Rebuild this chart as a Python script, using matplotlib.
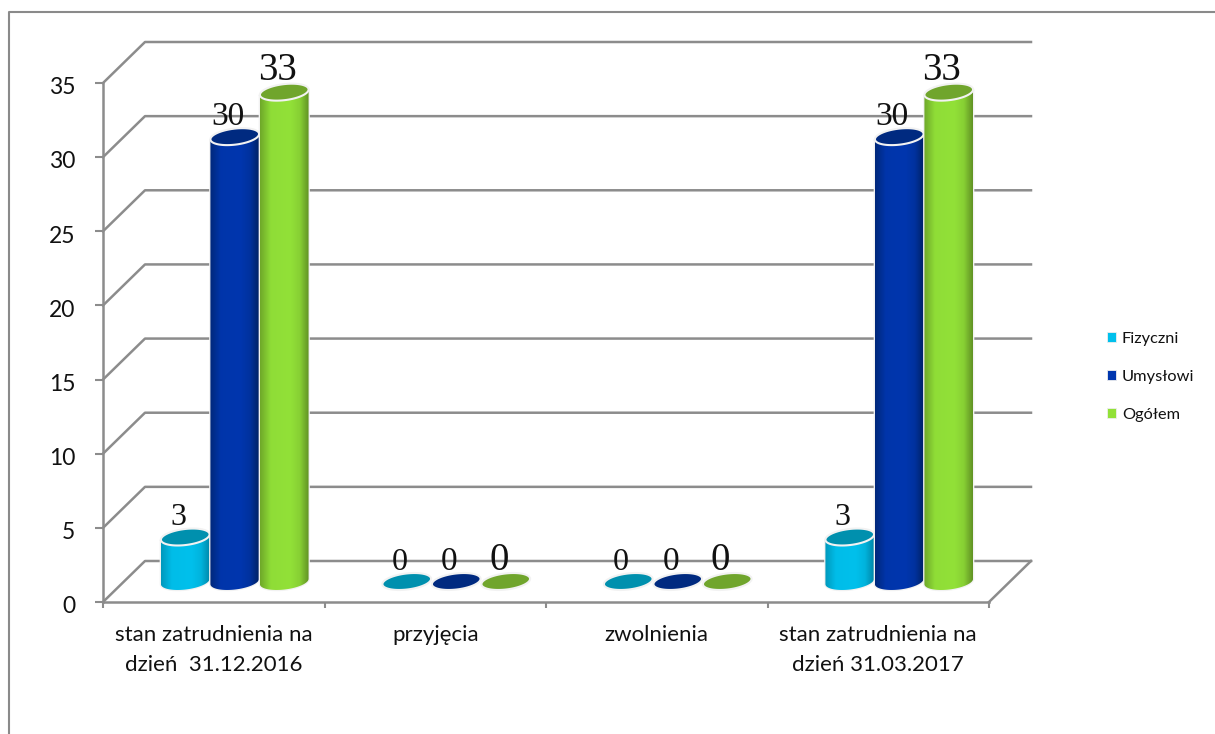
import matplotlib
matplotlib.use("Agg")
import matplotlib.pyplot as plt
import numpy as np
from matplotlib.lines import Line2D
from matplotlib.patches import PathPatch, Patch
from matplotlib.path import Path
from matplotlib.transforms import ScaledTranslation

categories = [
    "stan zatrudnienia na\ndzień  31.12.2016",
    "przyjęcia",
    "zwolnienia",
    "stan zatrudnienia na\ndzień 31.03.2017",
]
series_names = ["Fizyczni", "Umysłowi", "Ogółem"]
fizyczni = [3, 0, 0, 3]
umyslowi = [30, 0, 0, 30]
ogolem = [33, 0, 0, 33]
y_ticks = [0, 5, 10, 15, 20, 25, 30, 35]

# dark edge, light middle, top cap
body_dark = ["#0083A3", "#00205F", "#5C8A22"]
body_light = ["#00C0EC", "#0036AE", "#92E138"]
cap_colors = ["#0090AE", "#002A80", "#70A52C"]
label_sizes = [23, 24, 28]
grid_color = "#8C8C8C"

plt.rcParams["font.family"] = "Lato"

W, H = 1215, 734
fig = plt.figure(figsize=(W / 100, H / 100), dpi=100)
ax = fig.add_axes([103 / W, 1 - 602 / H, 886 / W, 519 / H])
ax.set_xlim(0, 4)
ax.set_ylim(0, 35)

px_x = 4 / 886
px_y = 35 / 519
depth_x = 42 * px_x
depth_y = 41 * px_y

# outer chart frame, only top and left show in the original
fig.add_artist(Line2D([9 / W, 9 / W, 1], [0, 1 - 12 / H, 1 - 12 / H],
                      transform=fig.transFigure, color="#8A8A8A", lw=1.5))

# back wall and side lines
for t in y_ticks:
    ax.plot([0, depth_x, 4 + depth_x], [t, t + depth_y, t + depth_y],
            color=grid_color, lw=1.8, clip_on=False, zorder=1)
ax.plot([4, 4 + depth_x], [0, depth_y], color=grid_color, lw=1.8, clip_on=False, zorder=1)

for side in ["top", "right"]:
    ax.spines[side].set_visible(False)
for side in ["left", "bottom"]:
    ax.spines[side].set_color(grid_color)
    ax.spines[side].set_linewidth(1.8)
ax.set_yticks(y_ticks)
ax.set_xticks([0, 1, 2, 3, 4])
ax.set_xticklabels([])
ax.set_xticks([0.5, 1.5, 2.5, 3.5], minor=True)
ax.set_xticklabels(categories, minor=True, color="#111111")
ax.tick_params(axis="x", which="major", length=4.5, width=1.5, color=grid_color)
ax.tick_params(axis="x", which="minor", length=0, pad=16.5, labelsize=16)
ax.tick_params(axis="y", length=5.5, width=1.5, color=grid_color, pad=14.5, labelsize=16.5)
for lab in ax.get_xticklabels(minor=True):
    lab.set_linespacing(1.64)
for lab in ax.get_yticklabels():
    lab.set_color("#111111")
    lab.set_transform(lab.get_transform() + ScaledTranslation(0, -2 / 72, fig.dpi_scale_trans))

ELL_A, ELL_B, ELL_PHI = 24.5, 8.0, np.radians(7)


def ellipse(cx, cy, t):
    # tilted ellipse, sizes in pixels converted to data units
    dx = ELL_A * np.cos(t) * np.cos(ELL_PHI) - ELL_B * np.sin(t) * np.sin(ELL_PHI)
    dy = ELL_A * np.cos(t) * np.sin(ELL_PHI) + ELL_B * np.sin(t) * np.cos(ELL_PHI)
    return cx + dx * px_x, cy + dy * px_y


def cylinder(cx, value, k, z):
    base = depth_y / 2
    top = base + value
    t_r = np.arctan2(-ELL_B * np.sin(ELL_PHI), ELL_A * np.cos(ELL_PHI))
    arc = np.linspace(t_r, t_r - np.pi, 40)

    if value > 0:
        x1, y1 = ellipse(cx, top, arc)
        x2, y2 = ellipse(cx, base, arc[::-1])
        verts = np.column_stack([np.r_[x1, x2], np.r_[y1, y2]])
        verts = np.vstack([verts, verts[0]])
        body = PathPatch(Path(verts), facecolor="none", edgecolor="#F2F2F2", lw=1.8, zorder=z)
        ax.add_patch(body)

        # horizontal shading across the cylinder
        pos = np.linspace(0, 1, 80)
        dark = np.array(matplotlib.colors.to_rgb(body_dark[k]))
        light = np.array(matplotlib.colors.to_rgb(body_light[k]))
        mix = np.interp(pos, [0, 0.22, 0.62, 0.82, 1], [0.35, 0.95, 1, 0.8, 0.1])
        img = dark + (light - dark) * mix[:, None]
        im = ax.imshow(img[None, :, :], extent=[verts[:, 0].min(), verts[:, 0].max(),
                                                verts[:, 1].min(), verts[:, 1].max()],
                       aspect="auto", zorder=z + 0.1, interpolation="bilinear")
        im.set_clip_path(PathPatch(Path(verts), transform=ax.transData))

    full = np.linspace(0, 2 * np.pi, 80)
    xc, yc = ellipse(cx, top, full)
    ax.fill(xc, yc, facecolor=cap_colors[k], edgecolor="#F2F2F2", lw=1.5, zorder=z + 0.2, clip_on=False)


all_series = [fizyczni, umyslowi, ogolem]
bar_step = 49.5 * px_x
for k, values in enumerate(all_series):
    for i, v in enumerate(values):
        cx = i + 0.5 + depth_x / 2 + (k - 1) * bar_step
        cylinder(cx, v, k, 3 + k)
        ax.text(cx - 7 * px_x, v + depth_y / 2 + 12 * px_y, str(v), family="Liberation Serif",
                fontsize=label_sizes[k], ha="center", va="baseline", color="#111111",
                zorder=10, clip_on=False)

ax.set_xlim(0, 4)
ax.set_ylim(0, 35)

handles = [Patch(facecolor=c, edgecolor="#EEEEEE", lw=0.6) for c in body_light]
fig.legend(handles, series_names, loc="center left", bbox_to_anchor=(1092.4 / W, 1 - 377 / H),
           frameon=False, fontsize=11.8, handlelength=0.55, handleheight=0.55,
           handletextpad=0.35, labelspacing=1.47, labelcolor="#111111")

fig.savefig("out.png", dpi=100)
